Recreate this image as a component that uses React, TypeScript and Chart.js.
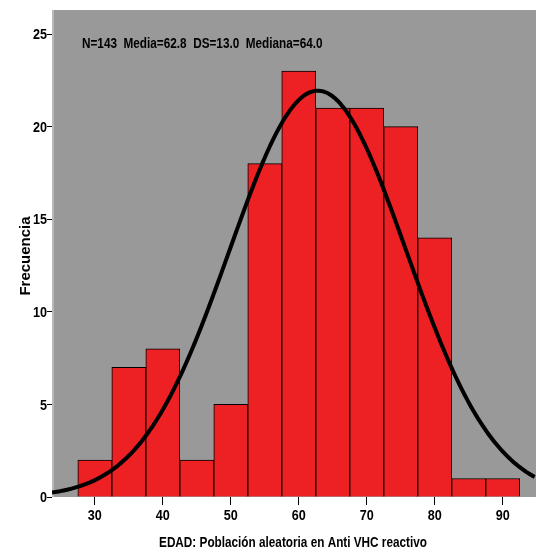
import React, { useEffect, useRef } from "react";
import { Chart, registerables } from "chart.js";

Chart.register(...registerables);

// Age bins (centres, width 5) and their frequencies
const binCenters = [30, 35, 40, 45, 50, 55, 60, 65, 70, 75, 80, 85, 90];
const frequencies = [2, 7, 8, 2, 5, 18, 23, 21, 21, 20, 14, 1, 1];
const binWidth = 5;

// Summary statistics shown in the header
const sampleN = 143;
const sampleMean = 62.8;
const sampleSD = 13.0;
const sampleMedian = 64.0;

const xTicks = [30, 40, 50, 60, 70, 80, 90];
const yTicks = [0, 5, 10, 15, 20, 25];
const xMin = 23.7;
const xMax = 94.9;
const yMax = 26.3;

const FONT = "'Liberation Sans', Arial, sans-serif";
const NARROW = 0.84;

// Normal curve scaled to the histogram (N * bin width * density)
function normalCurve() {
  const pts: { x: number; y: number }[] = [];
  const k = (sampleN * binWidth) / (sampleSD * Math.sqrt(2 * Math.PI));
  for (let x = xMin; x <= xMax + 0.001; x += 0.25) {
    const z = (x - sampleMean) / sampleSD;
    pts.push({ x, y: k * Math.exp(-0.5 * z * z) });
  }
  return pts;
}

// Condensed bold text drawn with a horizontal squeeze
function narrowText(ctx: CanvasRenderingContext2D, text: string, x: number, y: number, size: number, align: CanvasTextAlign, baseline: CanvasTextBaseline) {
  ctx.save();
  ctx.font = `bold ${size}px ${FONT}`;
  ctx.textAlign = align;
  ctx.textBaseline = baseline;
  ctx.translate(x, y);
  ctx.scale(NARROW, 1);
  ctx.fillText(text, 0, 0);
  ctx.restore();
}

const decorations = {
  id: "decorations",
  beforeDatasetsDraw(chart: any) {
    const { ctx, chartArea: a } = chart;
    ctx.save();
    ctx.fillStyle = "#999999";
    ctx.fillRect(a.left, a.top, a.right - a.left, a.bottom - a.top);
    ctx.fillStyle = "#b8b8b8";
    ctx.fillRect(a.left, a.top, 2, a.bottom - a.top);
    ctx.restore();
  },
  afterDraw(chart: any) {
    const { ctx, scales } = chart;
    ctx.save();
    ctx.fillStyle = "#000";
    const header = `N=${sampleN}  Media=${sampleMean.toFixed(1)}  DS=${sampleSD.toFixed(1)}  Mediana=${sampleMedian.toFixed(1)}`;
    narrowText(ctx, header, 82, 48, 14, "left", "alphabetic");
    narrowText(ctx, "EDAD: Población aleatoria en Anti VHC reactivo", 293, 547, 14, "center", "alphabetic");
    for (const v of xTicks) {
      narrowText(ctx, String(v), scales.x.getPixelForValue(v), 520, 15, "center", "alphabetic");
    }
    for (const v of yTicks) {
      narrowText(ctx, String(v), 47, scales.y.getPixelForValue(v) + 1, 15, "right", "middle");
    }
    ctx.translate(30, 256);
    ctx.rotate(-Math.PI / 2);
    ctx.font = `bold 15px ${FONT}`;
    ctx.textAlign = "center";
    ctx.textBaseline = "alphabetic";
    ctx.fillText("Frecuencia", 0, 0);
    ctx.restore();
  },
};

export default function App() {
  const ref = useRef<HTMLCanvasElement>(null);
  useEffect(() => {
    const chart = new Chart(ref.current!, {
      type: "bar",
      data: {
        datasets: [
          {
            type: "line",
            data: normalCurve(),
            borderColor: "#000",
            borderWidth: 4,
            pointRadius: 0,
            tension: 0,
            order: 0,
          } as any,
          {
            type: "bar",
            data: binCenters.map((x, i) => ({ x, y: frequencies[i] })),
            backgroundColor: "#ED2024",
            borderColor: "#000",
            borderWidth: 1,
            barPercentage: 1,
            categoryPercentage: 1,
            order: 1,
          },
        ],
      },
      options: {
        animation: false,
        responsive: false,
        layout: { padding: { top: 10, right: 0, left: 0, bottom: 0 } },
        plugins: { legend: { display: false }, tooltip: { enabled: false } },
        scales: {
          x: {
            type: "linear",
            min: xMin,
            max: xMax,
            offset: false,
            afterBuildTicks: (s: any) => {
              s.ticks = xTicks.map((v) => ({ value: v }));
            },
            afterFit: (s: any) => {
              s.height = 52;
            },
            grid: { offset: false, drawOnChartArea: false, drawTicks: true, tickLength: 8, color: "#000" },
            border: { display: false },
            ticks: { color: "rgba(0,0,0,0)", padding: 2, font: { size: 15 }, maxRotation: 0 },
          },
          y: {
            min: 0,
            max: yMax,
            afterBuildTicks: (s: any) => {
              s.ticks = yTicks.map((v) => ({ value: v }));
            },
            afterFit: (s: any) => {
              s.width = 52;
            },
            grid: { drawOnChartArea: false, drawTicks: true, tickLength: 5, color: "#000" },
            border: { display: false },
            ticks: { color: "rgba(0,0,0,0)", padding: 0, font: { size: 15 } },
          },
        },
      },
      plugins: [decorations],
    });
    return () => chart.destroy();
  }, []);
  return (
    <div style={{ position: "fixed", left: 0, top: 0, width: 536, height: 549, background: "#fff" }}>
      <canvas ref={ref} width={536} height={549} style={{ display: "block" }} />
    </div>
  );
}
